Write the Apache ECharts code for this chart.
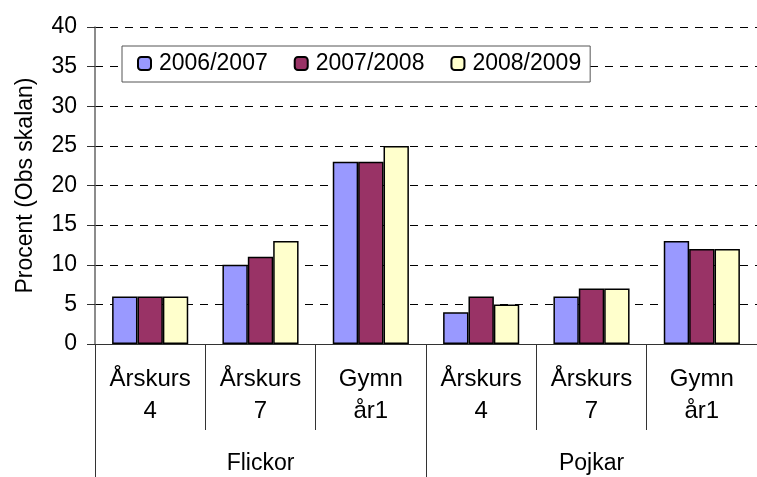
<!DOCTYPE html>
<html>
<head>
<meta charset="utf-8">
<script src="https://cdn.jsdelivr.net/npm/echarts@6/dist/echarts.min.js"></script>
<style>
html,body{margin:0;padding:0;background:#fff;}
#chart{width:757px;height:477px;}
</style>
</head>
<body>
<div id="chart"></div>
<script>
var categories = ['Årskurs\n4', 'Årskurs\n7', 'Gymn\når1', 'Årskurs\n4', 'Årskurs\n7', 'Gymn\når1'];
var groups = ['Flickor', 'Pojkar'];
var seriesNames = ['2006/2007', '2007/2008', '2008/2009'];
var v2006 = [6, 10, 23, 4, 6, 13];
var v2007 = [6, 11, 23, 6, 7, 12];
var v2008 = [6, 13, 25, 5, 7, 12];
var colors = ['#9999ff', '#993366', '#ffffcc'];

var font = 'Liberation Sans, Arial, sans-serif';
var myChart = echarts.init(document.getElementById('chart'));

function bar(name, data, color) {
    return {
        name: name,
        type: 'bar',
        data: data,
        barGap: 0,
        barCategoryGap: '31%',
        itemStyle: {
            color: color,
            borderColor: '#000',
            borderWidth: 1.5
        }
    };
}

var option = {
    animation: false,
    backgroundColor: '#fff',
    grid: {
        left: 95,
        right: -6,
        top: 27,
        bottom: 133,
        containLabel: false
    },
    legend: {
        left: 122,
        top: 46,
        padding: [6, 9, 7, 15],
        itemWidth: 13,
        itemHeight: 13,
        itemGap: 26,
        backgroundColor: '#fff',
        borderColor: '#555',
        borderWidth: 1,
        textStyle: {fontFamily: font, fontSize: 23, color: '#000', padding: [0, 0, 0, 3]},
        data: seriesNames
    },
    xAxis: [{
        type: 'category',
        data: categories,
        position: 'bottom',
        axisLine: {lineStyle: {color: '#333', width: 1}},
        axisTick: {show: true, length: 86, interval: 0, lineStyle: {color: '#333'}},
        axisLabel: {
            interval: 0,
            margin: 19,
            fontFamily: font,
            fontSize: 24,
            color: '#000',
            lineHeight: 32
        }
    }, {
        type: 'category',
        data: groups,
        position: 'bottom',
        axisLine: {show: false},
        axisTick: {show: true, length: 140, interval: 0, lineStyle: {color: '#333'}},
        axisLabel: {
            interval: 0,
            margin: 108,
            fontFamily: font,
            fontSize: 23,
            color: '#000',
            lineHeight: 23
        }
    }],
    yAxis: {
        type: 'value',
        min: 0,
        max: 40,
        interval: 5,
        name: 'Procent (Obs skalan)',
        nameLocation: 'middle',
        nameGap: 58,
        nameTextStyle: {fontFamily: font, fontSize: 23, color: '#000'},
        axisLine: {show: true, lineStyle: {color: '#666', width: 1.5}},
        axisTick: {show: true, length: 8, lineStyle: {color: '#333'}},
        axisLabel: {margin: 18, fontFamily: font, fontSize: 23, color: '#000'},
        splitLine: {show: true, lineStyle: {color: '#000', type: [8, 7], width: 1}}
    },
    series: [
        bar(seriesNames[0], v2006, colors[0]),
        bar(seriesNames[1], v2007, colors[1]),
        bar(seriesNames[2], v2008, colors[2])
    ]
};
myChart.setOption(option);
</script>
</body>
</html>
